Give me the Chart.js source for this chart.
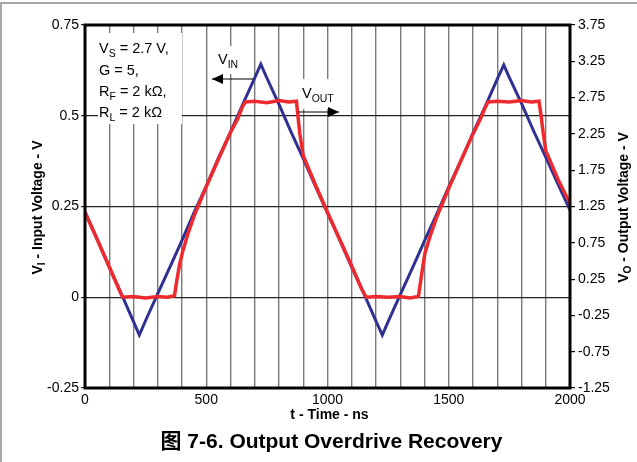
<!DOCTYPE html>
<html>
<head>
<meta charset="utf-8">
<script src="https://cdn.jsdelivr.net/npm/chart.js@4.4.1/dist/chart.umd.min.js"></script>
<style>
body{margin:0;background:#fff}
#wrap{width:637px;height:462px;position:relative}
</style>
</head>
<body>
<div id="wrap"><canvas id="chart"></canvas></div>
<script>

// V_I trace (left axis, volts)
const timeIn=[0,50,100,150,200,224,250,300,350,400,450,500,550,600,650,700,725,750,800,850,900,950,1000,1050,1100,1150,1200,1226,1250,1300,1350,1400,1450,1500,1550,1600,1650,1700,1727,1750,1800,1850,1900,1950,2000]
const vIn=[0.235,0.160,0.083,0.009,-0.067,-0.104,-0.064,0.010,0.083,0.157,0.234,0.306,0.383,0.455,0.531,0.604,0.642,0.604,0.531,0.455,0.382,0.306,0.232,0.159,0.082,0.010,-0.066,-0.104,-0.067,0.007,0.080,0.155,0.228,0.304,0.376,0.452,0.525,0.601,0.640,0.605,0.534,0.458,0.386,0.312,0.240]

// V_O trace (right axis, volts)
const timeOut=[0,50,100,140,155,200,250,300,340,369,378,390,402,425,450,500,550,600,630,650,662,700,750,800,840,872,878,886,900,950,1000,1050,1100,1140,1160,1200,1250,1300,1340,1375,1384,1393,1402,1425,1450,1500,1550,1600,1630,1650,1662,1700,1750,1800,1840,1872,1880,1890,1900,1950,2000]
const vOut=[1.17,0.80,0.42,0.11,0.00,0.01,-0.01,0.01,0.00,0.02,0.22,0.45,0.62,0.88,1.12,1.52,1.90,2.27,2.46,2.63,2.69,2.70,2.68,2.71,2.69,2.70,2.50,2.25,1.95,1.55,1.17,0.80,0.43,0.12,0.00,0.01,0.00,0.01,-0.01,0.01,0.22,0.42,0.61,0.86,1.10,1.50,1.88,2.25,2.45,2.61,2.69,2.70,2.69,2.71,2.69,2.70,2.52,2.25,2.02,1.63,1.29]

const xTicks=[0,500,1000,1500,2000]
const leftTicks=[-0.25,0,0.25,0.5,0.75]
const rightTicks=[-1.25,-0.75,-0.25,0.25,0.75,1.25,1.75,2.25,2.75,3.25,3.75]

const FONT="'Liberation Sans', Arial, 'Noto Sans CJK SC', sans-serif"
Chart.defaults.font.family=FONT
Chart.defaults.color="#000"

function drawRich(ctx,parts,x,y,size,bold,align){
const w=b=>(bold?"bold ":"")+b+"px "+FONT
let total=0
parts.forEach(p=>{ctx.font=w(p.sub?size*0.72:size);total+=ctx.measureText(p.t).width})
let cx=align==="center"?x-total/2:x
ctx.textAlign="left"
parts.forEach(p=>{
ctx.font=w(p.sub?size*0.72:size)
ctx.fillText(p.t,cx,y+(p.sub?size*0.28:0))
cx+=ctx.measureText(p.t).width
})
}

function arrow(ctx,x1,x2,y){
ctx.beginPath()
ctx.moveTo(x1,y)
ctx.lineTo(x2,y)
ctx.strokeStyle="#000"
ctx.lineWidth=1.2
ctx.stroke()
const d=x2>x1?1:-1
ctx.beginPath()
ctx.moveTo(x2,y)
ctx.lineTo(x2-d*11,y-5)
ctx.lineTo(x2-d*11,y+5)
ctx.closePath()
ctx.fillStyle="#000"
ctx.fill()
}

const decorations={
id:"decorations",
beforeDatasetsDraw(chart){
const ctx=chart.ctx
const a=chart.chartArea
ctx.save()
ctx.fillStyle="#fff"
ctx.fillRect(a.left+13,a.top+8,84,91)
ctx.fillRect(a.left+130,a.top+21,32,28)
ctx.fillRect(a.left+213,a.top+54,42,30)
ctx.restore()
},
afterDatasetsDraw(chart){
const ctx=chart.ctx
const a=chart.chartArea
ctx.save()
ctx.strokeStyle="#000"
ctx.lineWidth=3
ctx.strokeRect(a.left,a.top,a.right-a.left,a.bottom-a.top)

ctx.fillStyle="#000"
ctx.textBaseline="alphabetic"
const lx=a.left+14
drawRich(ctx,[{t:"V"},{t:"S",sub:true},{t:" = 2.7 V,"}],lx,a.top+28,14.5,false)
drawRich(ctx,[{t:"G = 5,"}],lx,a.top+50,14.5,false)
drawRich(ctx,[{t:"R"},{t:"F",sub:true},{t:" = 2 k\u03A9,"}],lx,a.top+71,14.5,false)
drawRich(ctx,[{t:"R"},{t:"L",sub:true},{t:" = 2 k\u03A9"}],lx,a.top+92,14.5,false)

drawRich(ctx,[{t:"V"},{t:"IN",sub:true}],a.left+133,a.top+39,14.5,false)
arrow(ctx,a.left+168,a.left+127,a.top+54)
drawRich(ctx,[{t:"V"},{t:"OUT",sub:true}],a.left+217,a.top+73,14.5,false)
arrow(ctx,a.left+213,a.left+254,a.top+87)
ctx.restore()
},
afterDraw(chart){
const ctx=chart.ctx
const a=chart.chartArea
const mid=(a.top+a.bottom)/2+1
ctx.save()
ctx.fillStyle="#000"
ctx.textBaseline="middle"

ctx.save()
ctx.translate(38,mid)
ctx.rotate(-Math.PI/2)
drawRich(ctx,[{t:"V"},{t:"I",sub:true},{t:" - Input Voltage - V"}],0,0,14,true,"center")
ctx.restore()

ctx.save()
ctx.translate(624,mid)
ctx.rotate(-Math.PI/2)
drawRich(ctx,[{t:"V"},{t:"O",sub:true},{t:" - Output Voltage - V"}],0,0,14,true,"center")
ctx.restore()

const cx=(a.left+a.right)/2+2
drawRich(ctx,[{t:"t - Time - ns"}],cx,a.bottom+27,14,true,"center")
drawRich(ctx,[{t:"\u56FE 7-6. Output Overdrive Recovery"}],cx+2,a.bottom+54,21,true,"center")

// outer frame
ctx.strokeStyle="#8a8a8a"
ctx.lineWidth=1.5
ctx.beginPath()
ctx.moveTo(1,462)
ctx.lineTo(1,3)
ctx.lineTo(637,3)
ctx.stroke()
ctx.restore()
}
}

new Chart(document.getElementById("chart"),{
type:"line",
data:{
datasets:[
{
label:"VOUT",
data:timeOut.map((t,i)=>({x:t,y:vOut[i]})),
yAxisID:"y2",
borderColor:"#ee2a2e",
borderWidth:3.5,
pointRadius:0,
tension:0
},
{
label:"VIN",
data:timeIn.map((t,i)=>({x:t,y:vIn[i]})),
yAxisID:"y",
borderColor:"#2e3192",
borderWidth:3,
pointRadius:0,
tension:0
}
]
},
options:{
responsive:true,
maintainAspectRatio:false,
animation:false,
layout:{padding:{top:25,left:0,right:0,bottom:0}},
plugins:{legend:{display:false},tooltip:{enabled:false}},
scales:{
x:{
type:"linear",
min:0,max:2000,
afterFit(s){s.height=74},
afterBuildTicks(s){s.ticks=[];for(let t=0;t<=2000;t+=100)s.ticks.push({value:t})},
ticks:{
font:{size:14},
padding:4,
maxRotation:0,
autoSkip:false,
callback:v=>xTicks.includes(v)?String(v):""
},
grid:{color:"#7a7a7a",lineWidth:1.4,drawTicks:false},
border:{display:false}
},
y:{
position:"left",
min:-0.25,max:0.75,
afterFit(s){s.width=85},
afterBuildTicks(s){s.ticks=leftTicks.map(v=>({value:v}))},
ticks:{font:{size:14},padding:2,callback:v=>String(v)},
grid:{color:"#222",lineWidth:1.2,tickLength:4},
border:{display:false}
},
y2:{
position:"right",
min:-1.25,max:3.75,
afterFit(s){s.width=67},
afterBuildTicks(s){s.ticks=rightTicks.map(v=>({value:v}))},
ticks:{font:{size:14},padding:3,callback:v=>v.toFixed(2)},
grid:{drawOnChartArea:false,color:"#000",lineWidth:1.2,tickLength:5},
border:{display:false}
}
}
},
plugins:[decorations]
})

</script>
</body>
</html>
